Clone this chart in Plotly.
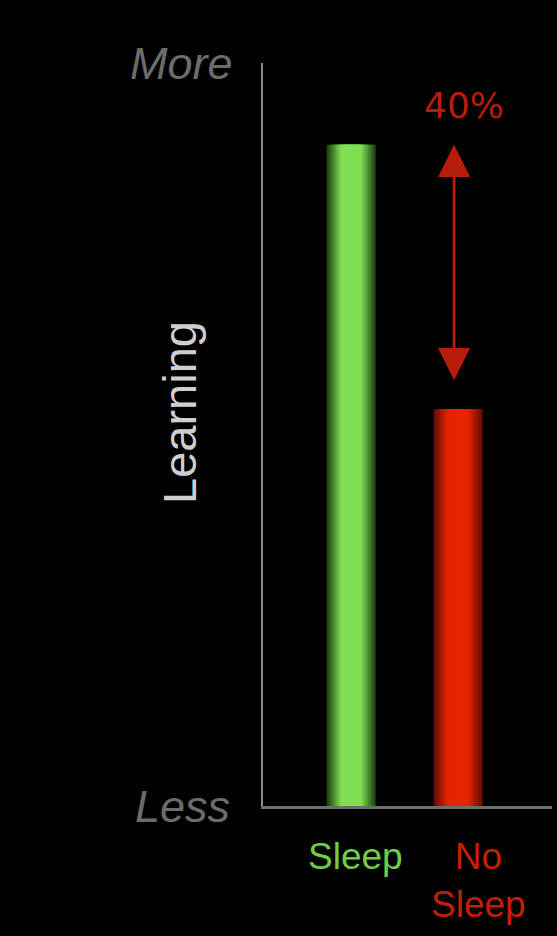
import plotly.graph_objects as go

# ---- data ----
categories = ["Sleep", "No Sleep"]
learning = [89, 53.4]
tick_labels = ["Sleep", "No<br>Sleep"]
diff_label = "40%"
axis_top_label = "More"
axis_bottom_label = "Less"
y_title = "Learning"

# ---- styles ----
edge_colors = [(30, 70, 15), (100, 15, 3)]
center_colors = [(128, 222, 85), (232, 36, 0)]
label_colors = ["#6fcf44", "#c41f06"]
red = "#b81c0a"

fig = go.Figure()

# cylindrical shading by overlaying narrowing bars
n_layers = 10
max_w, min_w = 0.46, 0.14
for k in range(n_layers):
    t = k / (n_layers - 1)
    w = max_w - (max_w - min_w) * t
    f = min(1.0, t * 1.25)
    cols = []
    for e, c in zip(edge_colors, center_colors):
        rgb = tuple(int(e[j] + (c[j] - e[j]) * f) for j in range(3))
        cols.append("rgb(%d,%d,%d)" % rgb)
    fig.add_trace(go.Bar(
        x=categories, y=learning, width=w,
        marker=dict(color=cols, line=dict(width=0)),
        showlegend=False, hoverinfo="skip"))

fig.update_layout(
    barmode="overlay",
    width=557, height=936,
    paper_bgcolor="black", plot_bgcolor="black",
    margin=dict(l=263, r=5, t=63, b=130),
    xaxis=dict(type="category", range=[-0.824, 1.878],
               showgrid=False, zeroline=False, showticklabels=False,
               showline=True, linecolor="#6e6e6e", linewidth=3, ticks=""),
    yaxis=dict(range=[0, 100], showgrid=False, zeroline=False,
               showticklabels=False, showline=True, linecolor="#8a8a8a",
               linewidth=2, ticks=""),
)

# double-headed arrow between the two bar tops
fig.add_annotation(
    x=1, y=learning[0], ax=0, ay=learning[1] + 3.7, ayref="y",
    xref="x", yref="y", text="", showarrow=True,
    arrowhead=2, arrowside="end+start", arrowsize=2.3, arrowwidth=2.8,
    arrowcolor=red, xshift=-4)
fig.add_annotation(
    x=1, y=learning[0] + 5.3, xref="x", yref="y", text=diff_label,
    showarrow=False, xshift=6,
    font=dict(family="DejaVu Sans", size=36, color=red))

# category labels
shifts = [4, 20]
for cat, lab, col, sh in zip(categories, tick_labels, label_colors, shifts):
    fig.add_annotation(
        x=cat, y=0, xref="x", yref="paper", text=lab, showarrow=False,
        yanchor="top", yshift=-28, xshift=sh,
        font=dict(family="Liberation Sans", size=37, color=col))

# axis end labels
fig.add_annotation(x=-0.097, y=1.0, xref="paper", yref="paper",
                   text="<i>%s</i>" % axis_top_label, showarrow=False,
                   xanchor="right", yanchor="middle",
                   font=dict(family="Liberation Sans", size=45, color="#6c6c6c"))
fig.add_annotation(x=-0.107, y=0.0, xref="paper", yref="paper",
                   text="<i>%s</i>" % axis_bottom_label, showarrow=False,
                   xanchor="right", yanchor="middle",
                   font=dict(family="Liberation Sans", size=45, color="#6c6c6c"))

# vertical title
fig.add_annotation(x=-0.287, y=0.529, xref="paper", yref="paper",
                   text=y_title, showarrow=False, textangle=-90,
                   xanchor="center", yanchor="middle",
                   font=dict(family="Liberation Sans", size=47, color="#cfcfcf"))

fig.write_html(
    "out.html",
    config={"displayModeBar": False},
    post_script="document.body.style.margin='0';"
                "document.body.style.background='black';")
